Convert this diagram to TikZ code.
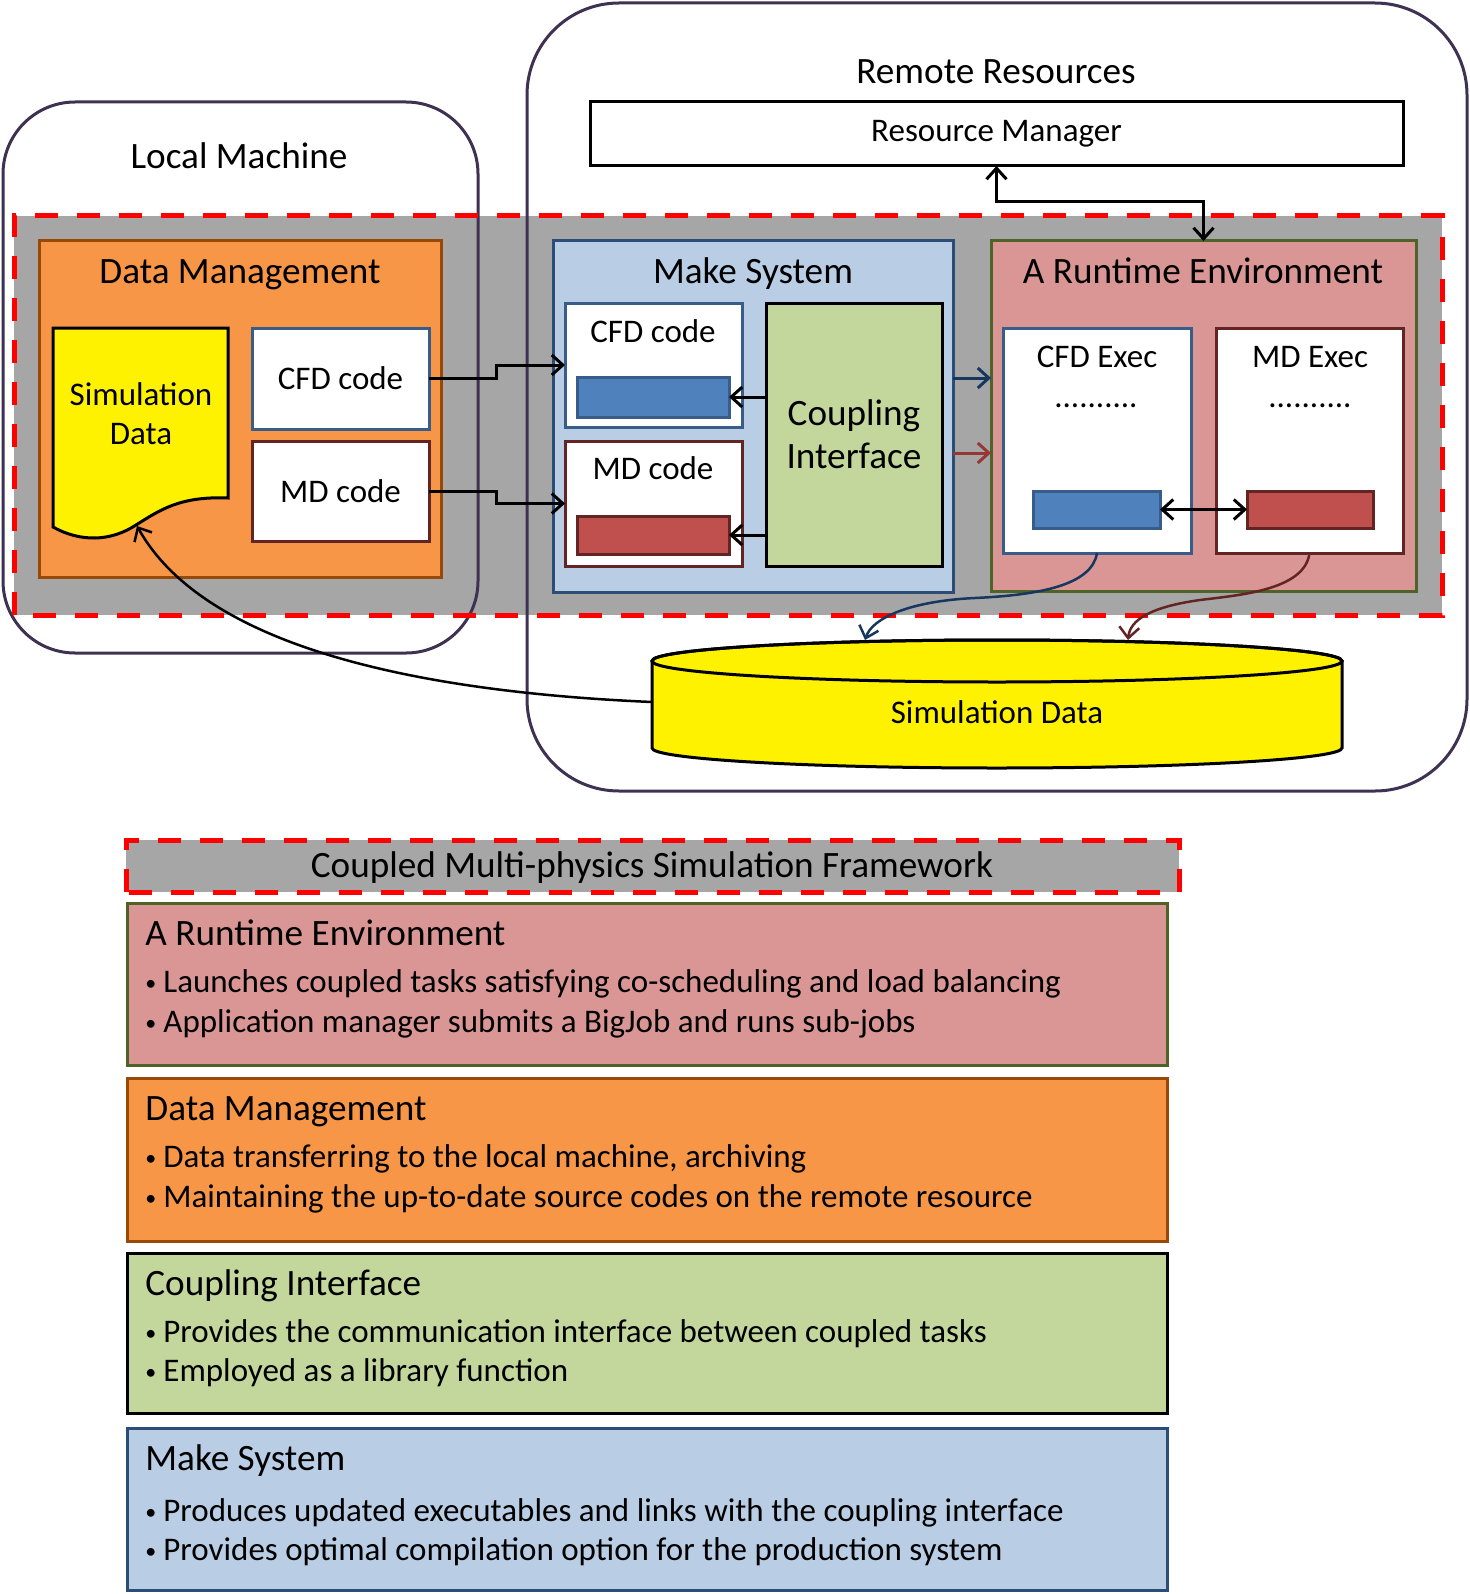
\documentclass[tikz,border=0pt]{standalone}
\usepackage{fontspec}
\setmainfont{Carlito}
\usetikzlibrary{arrows.meta, positioning}

\definecolor{machine}{HTML}{3F3151}
\definecolor{fwgray}{HTML}{A6A6A6}
\definecolor{dmfill}{HTML}{F79646}
\definecolor{dmdraw}{HTML}{984807}
\definecolor{msfill}{HTML}{B9CDE5}
\definecolor{msdraw}{HTML}{2C4D75}
\definecolor{cfdblue}{HTML}{4F81BD}
\definecolor{cfddraw}{HTML}{385D8A}
\definecolor{mdred}{HTML}{C0504D}
\definecolor{mddraw}{HTML}{632523}
\definecolor{cifill}{HTML}{C3D69B}
\definecolor{refill}{HTML}{D99694}
\definecolor{redraw}{HTML}{4F6228}
\definecolor{navyarrow}{HTML}{17375E}
\definecolor{redarrow}{HTML}{953735}

\newcommand{\bigtxt}{\fontsize{18.6pt}{22pt}\selectfont}
\newcommand{\smalltxt}{\fontsize{16.5pt}{19.5pt}\selectfont}
\newcommand{\itembul}{\makebox[9pt][l]{\raisebox{1pt}{\fontsize{11pt}{11pt}\selectfont •}}}

\tikzset{
    box/.style={
        rectangle,
        inner sep=0pt,
        outer sep=0pt,
        line width=1.5pt
    },
    machinebox/.style={box, draw=machine},
    fwbox/.style={box, fill=fwgray},
    reddash/.style={draw=red, line width=2.5pt, dash pattern=on 11.5pt off 9.5pt},
    dmbox/.style={box, draw=dmdraw, fill=dmfill},
    msbox/.style={box, draw=msdraw, fill=msfill},
    rebox/.style={box, draw=redraw, fill=refill},
    cibox/.style={box, draw=black, fill=cifill},
    cfdbox/.style={box, draw=cfddraw, fill=white},
    mdbox/.style={box, draw=mddraw, fill=white},
    cfdbar/.style={box, draw=cfddraw, fill=cfdblue},
    mdbar/.style={box, draw=mddraw, fill=mdred},
    headtext/.style={anchor=base, inner sep=0pt, font=\bigtxt},
    bodytext/.style={anchor=base, inner sep=0pt, font=\smalltxt},
    bullettext/.style={anchor=base west, inner sep=0pt, font=\smalltxt},
    arrow/.style={
        line width=1.5pt,
        -{Straight Barb[length=5.5pt,width=10pt]}
    },
    dblarrow/.style={
        line width=1.5pt,
        {Straight Barb[length=5.5pt,width=10pt]}-{Straight Barb[length=5.5pt,width=10pt]}
    },
    flow/.style={
        line width=1.25pt,
        -{Straight Barb[length=5.5pt,width=10pt]}
    }
}

\begin{document}
\begin{tikzpicture}[x=0.5pt, y=-0.5pt]
\useasboundingbox (0,0) rectangle (1469,1594);

% Framework band
\node (framework) [fwbox, minimum width=714pt, minimum height=199.5pt] at (728,415.5) {};

% Machines
\node (local) [machinebox, rounded corners=36pt, minimum width=237.5pt, minimum height=275.5pt] at (240.5,377.5) {};
\node (remote) [machinebox, rounded corners=46pt, minimum width=470pt, minimum height=394pt] at (997,397) {};
\draw[reddash] (framework.south west) rectangle (framework.north east);
\node (localtitle) [headtext] at (239,169) {Local Machine};
\node (remotetitle) [headtext] at (996,84) {Remote Resources};

% Resource manager
\node (rm) [box, draw=black, fill=white, minimum width=406.5pt, minimum height=32pt, font=\smalltxt] at (996.5,134) {Resource Manager};

% Data management
\node (dm) [dmbox, minimum width=201pt, minimum height=168pt] at (240,409) {};
\node (dmtitle) [headtext] at (240,283) {Data Management};
\filldraw[line width=1.5pt, fill=yellow] (53,328) -- (228,328) -- (228,498)
    .. controls (180,496) and (160,510) .. (136,525)
    .. controls (110,542) and (80,542) .. (53,527) -- cycle;
\node (simdoc) [inner sep=0pt, align=center, font=\smalltxt] at (141,414) {Simulation\\Data};
\coordinate (docwave) at (137,526);
\node (cfdsrc) [cfdbox, minimum width=88.5pt, minimum height=50.5pt, font=\smalltxt] at (340.5,378.5) {CFD code};
\node (mdsrc) [mdbox, minimum width=88.5pt, minimum height=50pt, font=\smalltxt] at (340.5,491) {MD code};

% Make system
\node (make) [msbox, minimum width=200pt, minimum height=175.5pt] at (753,416.5) {};
\node (maketitle) [headtext] at (753,283) {Make System};
\node (cfdcode) [cfdbox, minimum width=88.5pt, minimum height=62pt] at (653.5,365) {};
\node (cfdcodetext) [bodytext] at (653,342) {CFD code};
\node (cfdbar) [cfdbar, minimum width=76pt, minimum height=20pt] at (653,397) {};
\node (mdcode) [mdbox, minimum width=88.5pt, minimum height=62.5pt] at (653.5,503.5) {};
\node (mdcodetext) [bodytext] at (653,479) {MD code};
\node (mdbar) [mdbar, minimum width=76pt, minimum height=19pt] at (653,535) {};
\node (coupling) [cibox, minimum width=88pt, minimum height=131.5pt, align=center, font=\fontsize{18.6pt}{21.5pt}\selectfont] at (854,434.5) {Coupling\\Interface};

% Runtime environment
\node (runtime) [rebox, minimum width=212.5pt, minimum height=175pt] at (1203.5,416) {};
\node (runtimetitle) [headtext] at (1203,283) {A Runtime Environment};
\node (cfdexec) [cfdbox, minimum width=94pt, minimum height=112.5pt] at (1097,440.5) {};
\node (cfdexectext) [bodytext] at (1097,367) {CFD Exec};
\node (cfddots) [bodytext] at (1096,407) {..........};
\node (cfdexbar) [cfdbar, minimum width=63.5pt, minimum height=18.5pt] at (1096.5,509.5) {};
\node (mdexec) [mdbox, minimum width=93.5pt, minimum height=112.5pt] at (1309.5,440.5) {};
\node (mdexectext) [bodytext] at (1310,367) {MD Exec};
\node (mddots) [bodytext] at (1310,407) {..........};
\node (mdexbar) [mdbar, minimum width=63pt, minimum height=18.5pt] at (1310,509.5) {};

% Simulation data store
\filldraw[line width=1.5pt, fill=yellow] (652,661) -- (652,748)
    arc[start angle=180, end angle=360, x radius=172.5pt, y radius=10pt] -- (1342,661)
    arc[start angle=0, end angle=180, x radius=172.5pt, y radius=10.5pt] -- cycle;
\draw[line width=1.5pt] (997,661) ellipse[x radius=172.5pt, y radius=10.5pt];
\node (simstore) [bodytext] at (997,723) {Simulation Data};
\coordinate (storeleft) at (652,702);
\coordinate (storetopA) at (865,640);
\coordinate (storetopB) at (1128,640);

% Arrows
\draw[arrow] (cfdsrc.east) -- ++(67,0) |- (cfdcode.west);
\draw[arrow] (mdsrc.east) -- ++(67,0) |- (mdcode.west);
\draw[arrow] (coupling.west |- cfdbar.east) -- (cfdbar.east);
\draw[arrow] (coupling.west |- mdbar.east) -- (mdbar.east);
\draw[arrow, draw=navyarrow] (make.east |- 0,378) -- (runtime.west |- 0,378);
\draw[arrow, draw=redarrow] (make.east |- 0,453) -- (runtime.west |- 0,453);
\draw[dblarrow] (rm.south) -- ++(0,36) -| (runtime.north);
\draw[dblarrow] (cfdexbar.east) -- (mdexbar.west);
\draw[flow, draw=navyarrow] (cfdexec.south) .. controls (1092,585) and (1040,595) .. (975,598)
    .. controls (910,601) and (872,618) .. (storetopA);
\draw[flow, draw=mddraw] (mdexec.south) .. controls (1305,590) and (1240,595) .. (1200,600)
    .. controls (1150,607) and (1130,620) .. (storetopB);
\draw[flow] (storeleft) .. controls (420,692) and (205,648) .. (docwave);

% Legend
\node (fwtitle) [fwbox, minimum width=526.5pt, minimum height=26pt] at (652.5,866) {};
\draw[reddash] (fwtitle.south west) rectangle (fwtitle.north east);
\node (fwtitletext) [headtext] at (652,877) {Coupled Multi-physics Simulation Framework};

\node (rtinfo) [rebox, minimum width=520pt, minimum height=81pt] at (647,984) {};
\node (rtinfohead) [headtext, anchor=base west] at (145,945) {A Runtime Environment};
\node (rtinfoa) [bullettext] at (145,992) {\itembul Launches coupled tasks satisfying co-scheduling and load balancing};
\node (rtinfob) [bullettext] at (145,1032) {\itembul Application manager submits a BigJob and runs sub-jobs};

\node (dminfo) [dmbox, minimum width=520pt, minimum height=81.5pt] at (647,1159.5) {};
\node (dminfohead) [headtext, anchor=base west] at (145,1120) {Data Management};
\node (dminfoa) [bullettext] at (145,1167) {\itembul Data transferring to the local machine, archiving};
\node (dminfob) [bullettext] at (145,1207) {\itembul Maintaining the up-to-date source codes on the remote resource};

\node (ciinfo) [cibox, minimum width=520pt, minimum height=80pt] at (647,1333) {};
\node (ciinfohead) [headtext, anchor=base west] at (145,1295) {Coupling Interface};
\node (ciinfoa) [bullettext] at (145,1342) {\itembul Provides the communication interface between coupled tasks};
\node (ciinfob) [bullettext] at (145,1381) {\itembul Employed as a library function};

\node (msinfo) [msbox, minimum width=520pt, minimum height=81pt] at (647,1509) {};
\node (msinfohead) [headtext, anchor=base west] at (145,1470) {Make System};
\node (msinfoa) [bullettext] at (145,1521) {\itembul Produces updated executables and links with the coupling interface};
\node (msinfob) [bullettext] at (145,1560) {\itembul Provides optimal compilation option for the production system};

\end{tikzpicture}
\end{document}
